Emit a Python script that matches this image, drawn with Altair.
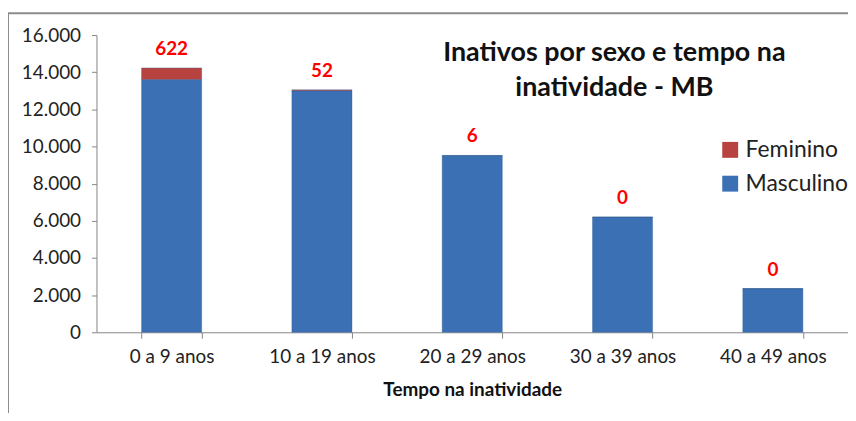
import altair as alt
import pandas as pd

categories = ["0 a 9 anos", "10 a 19 anos", "20 a 29 anos", "30 a 39 anos", "40 a 49 anos"]
masculino = [13610, 13000, 9514, 6200, 2350]
feminino = [622, 52, 6, 0, 0]
series = ["Feminino", "Masculino"]
colors = ["#b8423f", "#3c70b5"]

rows = []
for c, m, f in zip(categories, masculino, feminino):
    rows.append({"cat": c, "sexo": "Masculino", "valor": m, "ordem": 0})
    rows.append({"cat": c, "sexo": "Feminino", "valor": f, "ordem": 1})
df = pd.DataFrame(rows)
tot = pd.DataFrame({"cat": categories, "total": [m + f for m, f in zip(masculino, feminino)],
                    "fem": [str(f) for f in feminino]})

FONT = "Lato"

xaxis = alt.Axis(labelAngle=0, labelFontSize=19, labelColor="#222222", labelFont=FONT,
                 titleFontSize=19, titleFont=FONT, titleFontWeight="bold", titleColor="#111111",
                 titlePadding=15, labelPadding=9, tickBand="extent", tickSize=6,
                 domainColor="#868686", tickColor="#868686")
yaxis = alt.Axis(values=list(range(0, 16001, 2000)), grid=False, labelFontSize=19,
                 labelFont=FONT, labelColor="#222222", labelPadding=11, tickSize=5,
                 labelOverlap=False, labelBound=False,
                 domainColor="#868686", tickColor="#868686",
                 labelExpr="replace(format(datum.value, ','), ',', '.')")
xscale = alt.Scale(paddingInner=0.6, paddingOuter=0.3)
yscale = alt.Scale(domain=[0, 16000], nice=False)

bars = alt.Chart(df).mark_bar(stroke="#2f5a8f", strokeWidth=0.6, strokeOpacity=0.6).encode(
    x=alt.X("cat:N", sort=categories, title="Tempo na inatividade", scale=xscale, axis=xaxis),
    y=alt.Y("sum(valor):Q", title=None, scale=yscale, axis=yaxis),
    color=alt.Color("sexo:N", scale=alt.Scale(domain=series, range=colors),
                    legend=alt.Legend(title=None, orient="none", legendX=626, legendY=104,
                                      symbolType="square", symbolSize=256, labelFontSize=23,
                                      labelFont=FONT, labelColor="#222222", rowPadding=10,
                                      labelOffset=4, symbolStrokeWidth=0)),
    order=alt.Order("ordem:Q"),
)

labels = alt.Chart(tot).mark_text(color="#ff0000", fontWeight="bold", fontSize=19, font=FONT,
                                  baseline="bottom", dy=-9).encode(
    x=alt.X("cat:N", sort=categories, title="Tempo na inatividade", scale=xscale, axis=xaxis),
    y=alt.Y("total:Q", title=None, scale=yscale, axis=yaxis),
    text="fem:N",
)

title = alt.Chart(pd.DataFrame({"t": [["Inativos por sexo e tempo na", "inatividade - MB"]]})).mark_text(
    fontSize=27, fontWeight="bold", font=FONT, color="#111111", align="center", baseline="top",
    lineHeight=35).encode(
    x=alt.value(521), y=alt.value(5), text="t")

frame = alt.Chart(pd.DataFrame({"a": [0]})).mark_rect(fill=None, stroke="#8c8c8c", strokeWidth=2).encode(
    x=alt.value(-89), x2=alt.value(790), y=alt.value(-22), y2=alt.value(430))

chart = alt.layer(frame, bars, labels, title).properties(
    width=756, height=299,
    autosize=alt.AutoSizeParams(type="none"),
    padding={"left": 89, "top": 26, "right": 0, "bottom": 80},
).configure_view(stroke=None)

chart.save("out.html", embed_options={"renderer": "svg", "actions": False})
